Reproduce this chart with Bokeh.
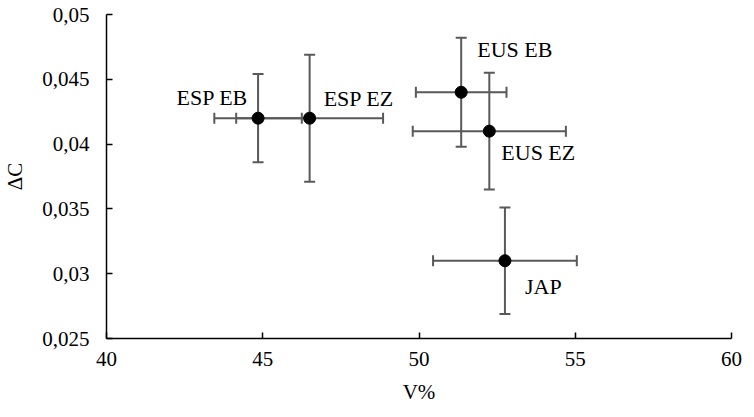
from bokeh.plotting import figure
from bokeh.models import ColumnDataSource, Whisker, TeeHead, FixedTicker, Range1d
from bokeh.core.properties import value
from bokeh.embed import file_html
from bokeh.resources import INLINE

# ---- data ----
labels = ["ESP EB", "ESP EZ", "EUS EB", "EUS EZ", "JAP"]
v_pct = [44.85, 46.5, 51.35, 52.25, 52.75]
delta_c = [0.042, 0.042, 0.044, 0.041, 0.031]
v_err = [1.4, 2.35, 1.45, 2.45, 2.3]
c_err = [0.0034, 0.0049, 0.0042, 0.0045, 0.0041]
x_ticks = [40, 45, 50, 55, 60]
y_ticks = [0.025, 0.03, 0.035, 0.04, 0.045, 0.05]
y_tick_labels = ["0,025", "0,03", "0,035", "0,04", "0,045", "0,05"]

# label placement (screen pixels, styling only)
label_dx = [-10, 14, 16, 12, 20]
label_dy = [-21, -20, -43, 21, 26]
label_align = ["right", "left", "left", "left", "left"]

FONT = "Liberation Serif"
ERR_COLOR = "#595959"

src = ColumnDataSource(dict(
    x=v_pct, y=delta_c,
    xl=[a - b for a, b in zip(v_pct, v_err)], xu=[a + b for a, b in zip(v_pct, v_err)],
    yl=[a - b for a, b in zip(delta_c, c_err)], yu=[a + b for a, b in zip(delta_c, c_err)],
    label=labels, dx=label_dx, dy=label_dy, align=label_align,
))

p = figure(width=744, height=409, output_backend="svg", toolbar_location=None,
           x_range=Range1d(40, 60), y_range=Range1d(0.025, 0.05),
           min_border_left=102, min_border_right=13, min_border_top=14, min_border_bottom=71)
p.outline_line_color = None
p.xgrid.visible = False
p.ygrid.visible = False
p.background_fill_color = "white"
p.border_fill_color = "white"

def head():
    return TeeHead(size=11, line_color=ERR_COLOR, line_width=2)

wx = Whisker(base="y", lower="xl", upper="xu", dimension="width", source=src,
             line_color=ERR_COLOR, line_width=2, lower_head=head(), upper_head=head())
wy = Whisker(base="x", lower="yl", upper="yu", dimension="height", source=src,
             line_color=ERR_COLOR, line_width=2, lower_head=head(), upper_head=head())
p.add_layout(wx)
p.add_layout(wy)

p.scatter("x", "y", source=src, size=12, fill_color="black", line_color="black")

p.text("x", "y", text="label", source=src, x_offset="dx", y_offset="dy",
       text_align="align", text_baseline="alphabetic",
       text_font=value(FONT), text_font_size="22px", text_color="black")

for ax in (p.xaxis[0], p.yaxis[0]):
    ax.axis_line_color = "black"
    ax.axis_line_width = 1.5
    ax.major_tick_line_color = "black"
    ax.major_tick_line_width = 1.5
    ax.major_tick_in = 6
    ax.major_tick_out = 0
    ax.minor_tick_line_color = None
    ax.major_label_text_font = FONT
    ax.major_label_text_font_size = "21px"
    ax.major_label_text_color = "black"
    ax.axis_label_text_font = FONT
    ax.axis_label_text_font_size = "21px"
    ax.axis_label_text_font_style = "normal"
    ax.axis_label_text_color = "black"

p.xaxis[0].ticker = FixedTicker(ticks=x_ticks)
p.yaxis[0].ticker = FixedTicker(ticks=y_ticks)
p.yaxis[0].major_label_overrides = {t: s for t, s in zip(y_ticks, y_tick_labels)}
p.xaxis[0].major_label_standoff = 13
p.yaxis[0].major_label_standoff = 17
p.xaxis[0].axis_label = "V%"
p.yaxis[0].axis_label = "ΔC"
p.xaxis[0].axis_label_standoff = 11
p.yaxis[0].axis_label_standoff = 12

open("out.html", "w").write(file_html(p, INLINE))
